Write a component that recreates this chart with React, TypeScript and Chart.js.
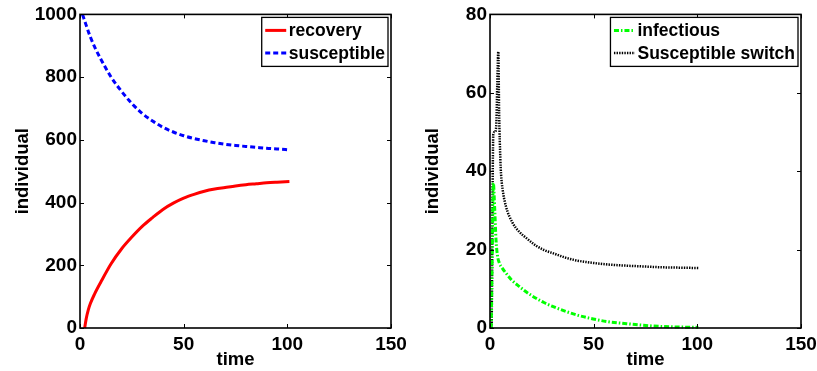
import React, { useEffect, useRef } from "react";
import { Chart, registerables } from "chart.js";

Chart.register(...registerables);

const FONT = "Arial, 'Liberation Sans', Helvetica, sans-serif";

// Shared x axis
const xTickValues = [0, 50, 100, 150];

// Left panel
const leftYTicks = [0, 200, 400, 600, 800, 1000];
const recoveryTime = [2.25, 3, 4, 5, 7, 10, 15, 20, 25, 30, 35, 40, 45, 50, 55, 60, 65, 70, 75, 80, 85, 90, 95, 101];
const recoveryValues = [0, 30, 58, 78, 108, 146, 205, 252, 290, 324, 352, 378, 398, 414, 426, 436, 443, 448, 453, 457, 460, 463, 465, 467];
const susceptibleTime = [1.2, 3, 5, 7, 10, 15, 20, 25, 30, 35, 40, 45, 50, 55, 60, 65, 70, 75, 80, 85, 90, 95, 101];
const susceptibleValues = [1000, 965, 928, 897, 858, 800, 755, 716, 684, 660, 640, 625, 613, 604, 597, 591, 586, 582, 579, 576, 573, 571, 568];

// Right panel
const rightYTicks = [0, 20, 40, 60, 80];
const infectiousTime = [0.6, 1.1, 1.6, 2.3, 2.9, 3.6, 4.5, 6, 7.7, 10.5, 14.1, 18, 22.2, 26, 30.2, 36.7, 42, 49.8, 57, 65.9, 74, 82, 91, 100.5];
const infectiousValues = [0, 20, 37, 30, 22.5, 18.5, 16.6, 15.2, 14, 12.2, 10.6, 9, 7.6, 6.5, 5.5, 4.2, 3.3, 2.3, 1.6, 1.1, 0.7, 0.4, 0.25, 0.15];
const switchTime = [0.8, 1.6, 2.4, 3.0, 3.5, 4.0, 4.4, 5.0, 5.3, 6.1, 7.7, 10.9, 14, 17.4, 22.2, 26, 30.2, 36.7, 42, 49.8, 57, 65.9, 74, 82, 91, 100.5];
const switchValues = [0, 49.5, 50, 51.5, 62, 70.5, 55, 43, 39.5, 35.3, 31, 26.8, 24.6, 23, 21, 19.9, 19.1, 17.9, 17.2, 16.6, 16.2, 15.9, 15.7, 15.5, 15.4, 15.3];

const xAxisTitle = "time";
const yAxisTitle = "individual";

function pts(t: number[], v: number[]) {
  return t.map((x, i) => ({ x, y: v[i] }));
}

const framePlugin = {
  id: "frame",
  afterDatasetsDraw(chart: any) {
    const { ctx, chartArea } = chart;
    const { left, right, top, bottom } = chartArea;
    const xs = chart.scales.x;
    const ys = chart.scales.y;
    ctx.save();
    ctx.strokeStyle = "#000";
    ctx.lineWidth = 1;
    const tl = 4;
    ctx.beginPath();
    xs.ticks.forEach((t: any) => {
      const p = Math.round(xs.getPixelForValue(t.value)) + 0.5;
      ctx.moveTo(p, bottom);
      ctx.lineTo(p, bottom - tl);
      ctx.moveTo(p, top);
      ctx.lineTo(p, top + tl);
    });
    ys.ticks.forEach((t: any) => {
      const p = Math.round(ys.getPixelForValue(t.value)) + 0.5;
      ctx.moveTo(left, p);
      ctx.lineTo(left + tl, p);
      ctx.moveTo(right, p);
      ctx.lineTo(right - tl, p);
    });
    ctx.stroke();
    ctx.lineWidth = 1.6;
    ctx.strokeRect(left, top, right - left, bottom - top);
    ctx.restore();
  },
  afterDraw(chart: any) {
    const { ctx, chartArea } = chart;
    const ds = chart.data.datasets;
    ctx.save();
    ctx.font = `bold 17.5px ${FONT}`;
    const textW = Math.max(...ds.map((d: any) => ctx.measureText(d.label).width));
    const padL = 3.5, sample = 21, gap = 2.5, padR = 3;
    const boxW = padL + sample + gap + textW + padR;
    const boxH = 49;
    const bx = chartArea.right - 3 - boxW;
    const by = chartArea.top + 3;
    ctx.fillStyle = "#fff";
    ctx.fillRect(bx, by, boxW, boxH);
    ctx.strokeStyle = "#000";
    ctx.lineWidth = 1.3;
    ctx.strokeRect(bx, by, boxW, boxH);
    ds.forEach((d: any, i: number) => {
      const cy = by + 13 + i * 22.7;
      ctx.beginPath();
      ctx.strokeStyle = d.borderColor;
      ctx.lineWidth = d.borderWidth;
      ctx.setLineDash(d.borderDash || []);
      ctx.moveTo(bx + padL, cy);
      ctx.lineTo(bx + padL + sample, cy);
      ctx.stroke();
      ctx.setLineDash([]);
      ctx.fillStyle = "#000";
      ctx.textBaseline = "middle";
      ctx.textAlign = "left";
      ctx.fillText(d.label, bx + padL + sample + gap, cy + 1);
    });
    ctx.restore();
  },
};

function makeConfig(datasets: any[], yTicks: number[]) {
  const tickFont = { family: FONT, size: 19, weight: "bold" as const };
  const titleFont = { family: FONT, size: 18.5, weight: "bold" as const };
  return {
    type: "line" as const,
    data: { datasets },
    options: {
      animation: false as const,
      responsive: false,
      maintainAspectRatio: false,
      events: [],
      layout: { padding: { top: 14, right: 0, left: 0, bottom: 0 } },
      plugins: { legend: { display: false }, tooltip: { enabled: false } },
      elements: { point: { radius: 0 } },
      scales: {
        x: {
          type: "linear" as const,
          min: xTickValues[0],
          max: xTickValues[xTickValues.length - 1],
          afterBuildTicks: (s: any) => {
            s.ticks = xTickValues.map((v) => ({ value: v }));
          },
          afterFit: (s: any) => {
            s.height = 43;
          },
          grid: { display: false, drawTicks: true, tickLength: 5 },
          border: { display: false },
          ticks: { color: "#000", font: tickFont, padding: 0, maxRotation: 0, autoSkip: false, callback: (v: any) => String(v) },
          title: { display: true, text: xAxisTitle, color: "#000", font: titleFont, padding: { top: 0, bottom: 0 } },
        },
        y: {
          type: "linear" as const,
          min: yTicks[0],
          max: yTicks[yTicks.length - 1],
          afterBuildTicks: (s: any) => {
            s.ticks = yTicks.map((v) => ({ value: v }));
          },
          afterFit: (s: any) => {
            s.width = 80;
          },
          grid: { display: false, drawTicks: false },
          border: { display: false },
          ticks: { color: "#000", font: tickFont, padding: 3, autoSkip: false, callback: (v: any) => String(v) },
          title: { display: true, text: yAxisTitle, color: "#000", font: titleFont, padding: { top: 12, bottom: 0 } },
        },
      },
    },
    plugins: [framePlugin],
  };
}

function Panel({ left, width, datasets, yTicks, rightPad }: any) {
  const ref = useRef<HTMLCanvasElement>(null);
  useEffect(() => {
    if (!ref.current) return;
    const cfg: any = makeConfig(datasets, yTicks);
    cfg.options.layout.padding.right = rightPad;
    const chart = new Chart(ref.current, cfg);
    return () => chart.destroy();
  }, []);
  return (
    <canvas
      ref={ref}
      width={width}
      height={371}
      style={{ position: "absolute", left, top: 0, width, height: 371 }}
    />
  );
}

export default function App() {
  const leftSets = [
    {
      label: "recovery",
      data: pts(recoveryTime, recoveryValues),
      borderColor: "#ff0000",
      borderWidth: 3,
      borderDash: [],
      fill: false,
      clip: false,
      cubicInterpolationMode: "monotone",
    },
    {
      label: "susceptible",
      data: pts(susceptibleTime, susceptibleValues),
      borderColor: "#0000ff",
      borderWidth: 3,
      borderDash: [5, 3],
      fill: false,
      clip: false,
      cubicInterpolationMode: "monotone",
    },
  ];
  const rightSets = [
    {
      label: "infectious",
      data: pts(infectiousTime, infectiousValues),
      borderColor: "#00ff00",
      borderWidth: 3,
      borderDash: [5, 2, 1.5, 2],
      fill: false,
      clip: false,
      cubicInterpolationMode: "monotone",
    },
    {
      label: "Susceptible switch",
      data: pts(switchTime, switchValues),
      borderColor: "#000000",
      borderWidth: 2.5,
      borderDash: [1.4, 1.2],
      fill: false,
      clip: false,
      cubicInterpolationMode: "monotone",
    },
  ];
  return (
    <div style={{ position: "fixed", left: 0, top: 0, width: 817, height: 371, background: "#fff" }}>
      <Panel left={0} width={408} datasets={leftSets} yTicks={leftYTicks} rightPad={17} />
      <Panel left={410} width={407} datasets={rightSets} yTicks={rightYTicks} rightPad={16} />
    </div>
  );
}
